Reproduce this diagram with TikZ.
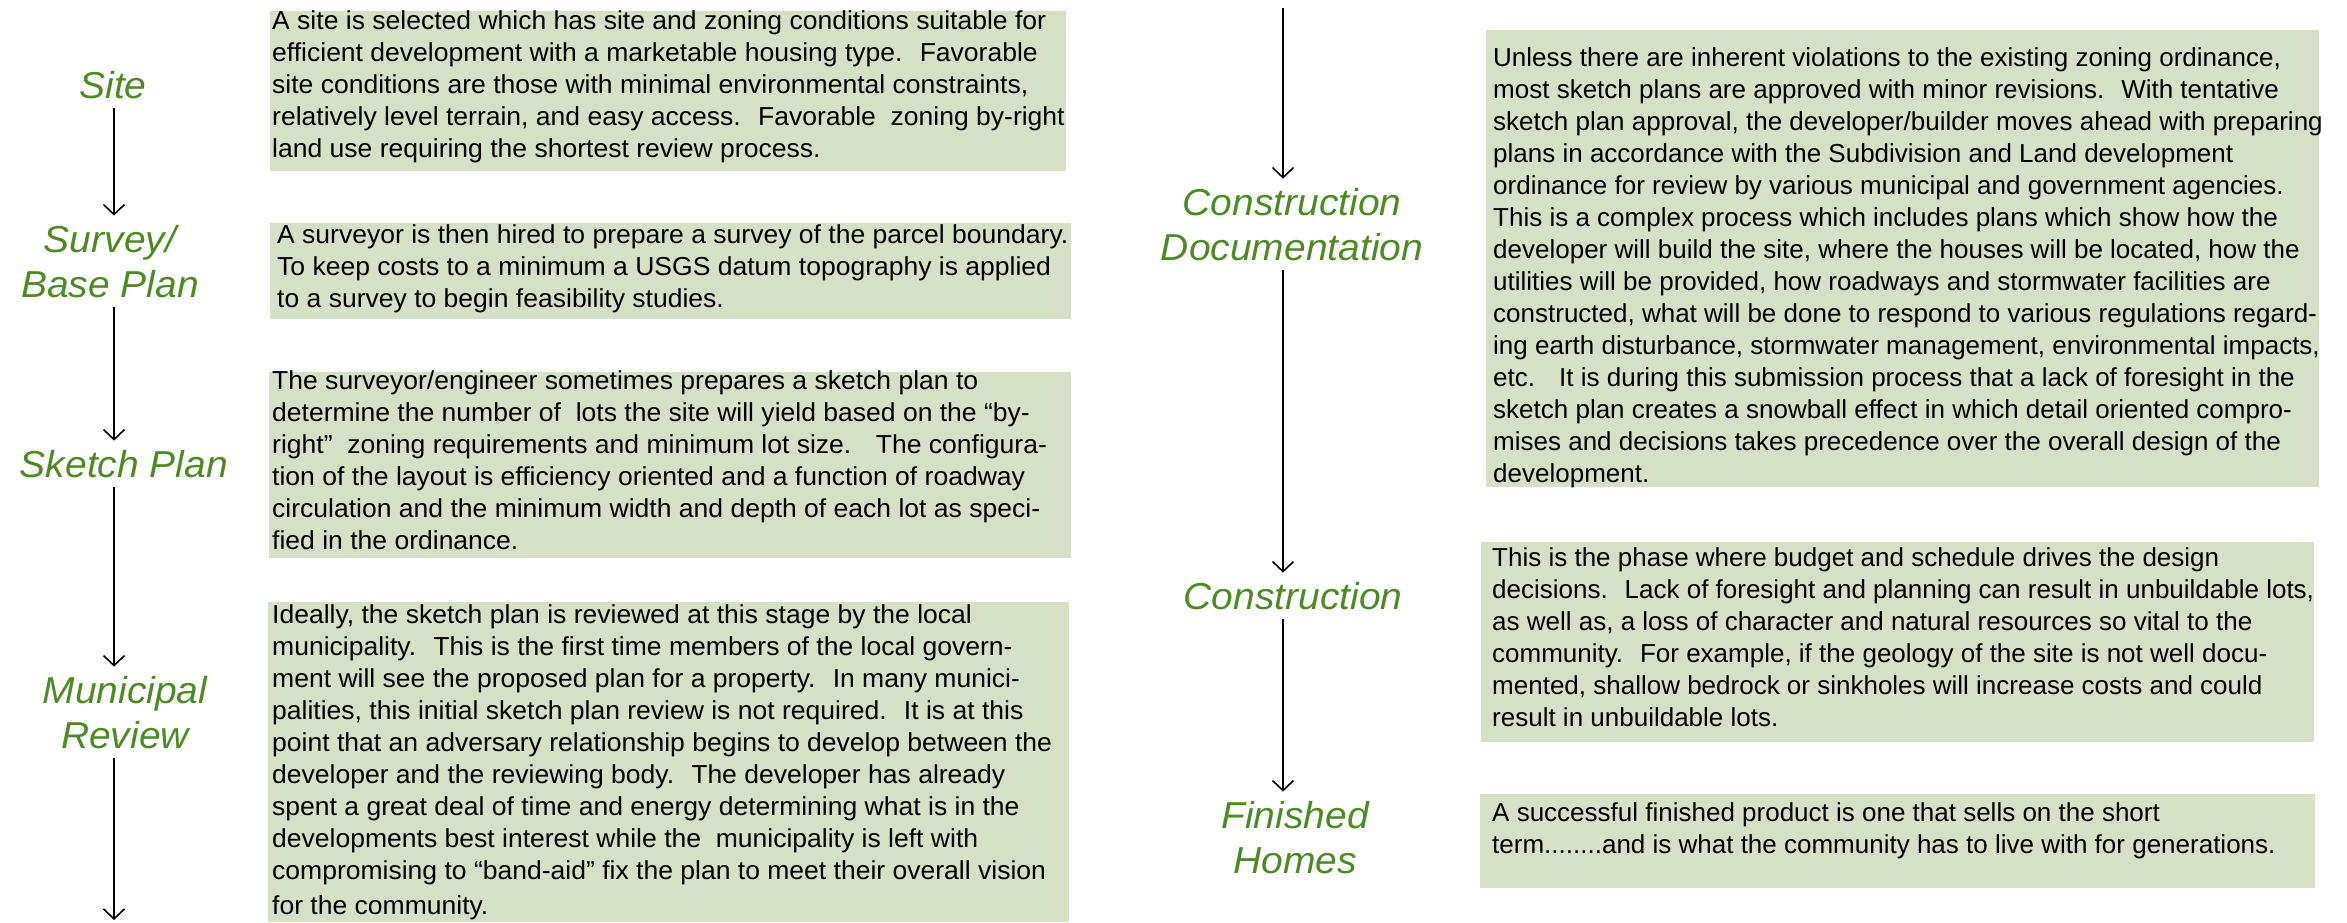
\documentclass[tikz,border=0pt]{standalone}
\usepackage{fontspec}
\setmainfont{Liberation Sans}[FakeStretch=1.04]
\newfontfamily\notewide{Liberation Sans}[FakeStretch=1.02]
\newfontfamily\notenarrow{Liberation Sans}
\usetikzlibrary{arrows.meta}
\definecolor{labelgreen}{RGB}{78,138,34}
\definecolor{notefill}{RGB}{214,224,199}

\begin{document}
\begin{tikzpicture}[x=1pt,y=-1pt,
  stage/.style={text=labelgreen, font=\fontsize{37.5}{45}\selectfont\itshape,
    align=center, inner xsep=0pt, inner ysep=9pt, anchor=base},
  note/.style={font=\notewide\fontsize{26}{32}\selectfont, align=left,
    inner sep=0pt, anchor=base west, text=black},
  rnote/.style={note, font=\notenarrow\fontsize{26}{32}\selectfont},
  panel/.style={fill=notefill},
  flow/.style={line width=1.6pt,
    -{Straight Barb[length=10pt,width=21pt,line width=1.6pt]}}
]
\useasboundingbox (0,0) rectangle (2347,922);
\fill[white] (0,0) rectangle (2347,922);

% description panels
\fill[panel] (270,11) rectangle (1066,171);
\fill[panel] (270,223) rectangle (1071,319);
\fill[panel] (269,372) rectangle (1071,558);
\fill[panel] (268,602) rectangle (1069,922);
\fill[panel] (1486,30) rectangle (2319,487);
\fill[panel] (1481,542) rectangle (2314,742);
\fill[panel] (1480,794) rectangle (2315,888);

% stage labels (positioned by the baseline of their last line)
\node[stage] (site)   at (113,98)   {Site};
\node[stage] (survey) at (110,297)  {Survey/\\Base Plan};
\node[stage] (sketch) at (124,477)  {Sketch Plan};
\node[stage] (munic)  at (125,748)  {Municipal\\Review};
\node[stage] (cdoc)   at (1292,260) {Construction\\Documentation};
\node[stage] (constr) at (1293,609) {Construction};
\node[stage] (homes)  at (1295,873) {Finished\\Homes};

% flow axes and open ends
\coordinate (axL) at (114,0);
\coordinate (axR) at (1283,0);
\coordinate (leftEnd) at (114,920);
\coordinate (rightStart) at (1283,8);

\draw[flow] (site.south -| axL) -- (survey.north -| axL);
\draw[flow] (survey.south -| axL) -- (sketch.north -| axL);
\draw[flow] (sketch.south -| axL) -- (munic.north -| axL);
\draw[flow] (munic.south -| axL) -- (leftEnd);
\draw[flow] (rightStart) -- (cdoc.north -| axR);
\draw[flow] (cdoc.south -| axR) -- (constr.north -| axR);
\draw[flow] (constr.south -| axR) -- (homes.north -| axR);

% descriptions (positioned by the baseline of their last line)
\node[note] (n1) at (272,157) {A site is selected which has site and zoning conditions suitable for\\
efficient development with a marketable housing type.~ Favorable\\
site conditions are those with minimal environmental constraints,\\
relatively level terrain, and easy access.~ Favorable~ zoning by-right\\
land use requiring the shortest review process.};

\node[note] (n2) at (277,307) {A surveyor is then hired to prepare a survey of the parcel boundary.\\
To keep costs to a minimum a USGS datum topography is applied\\
to a survey to begin feasibility studies.};

\node[note] (n3) at (272,549) {The surveyor/engineer sometimes prepares a sketch plan to\\
determine the number of~ lots the site will yield based on the “by-\\
right”~ zoning requirements and minimum lot size.~~ The configura-\\
tion of the layout is efficiency oriented and a function of roadway\\
circulation and the minimum width and depth of each lot as speci-\\
fied in the ordinance.};

\node[note] (n4) at (272,914) {Ideally, the sketch plan is reviewed at this stage by the local\\
municipality.~ This is the first time members of the local govern-\\
ment will see the proposed plan for a property.~ In many munici-\\
palities, this initial sketch plan review is not required.~ It is at this\\
point that an adversary relationship begins to develop between the\\
developer and the reviewing body.~ The developer has already\\
spent a great deal of time and energy determining what is in the\\
developments best interest while the~ municipality is left with\\
compromising to “band-aid” fix the plan to meet their overall vision\\[3pt]
for the community.};

\node[rnote] (n5) at (1493,482) {Unless there are inherent violations to the existing zoning ordinance,\\
most sketch plans are approved with minor revisions.~ With tentative\\
sketch plan approval, the developer/builder moves ahead with preparing\\
plans in accordance with the Subdivision and Land development\\
ordinance for review by various municipal and government agencies.\\
This is a complex process which includes plans which show how the\\
developer will build the site, where the houses will be located, how the\\
utilities will be provided, how roadways and stormwater facilities are\\
constructed, what will be done to respond to various regulations regard-\\
ing earth disturbance, stormwater management, environmental impacts,\\
etc.~~ It is during this submission process that a lack of foresight in the\\
sketch plan creates a snowball effect in which detail oriented compro-\\
mises and decisions takes precedence over the overall design of the\\
development.};

\node[rnote] (n6) at (1492,726) {This is the phase where budget and schedule drives the design\\
decisions.~ Lack of foresight and planning can result in unbuildable lots,\\
as well as, a loss of character and natural resources so vital to the\\
community.~ For example, if the geology of the site is not well docu-\\
mented, shallow bedrock or sinkholes will increase costs and could\\
result in unbuildable lots.};

\node[rnote] (n7) at (1492,853) {A successful finished product is one that sells on the short\\
term........and is what the community has to live with for generations.};
\end{tikzpicture}
\end{document}
